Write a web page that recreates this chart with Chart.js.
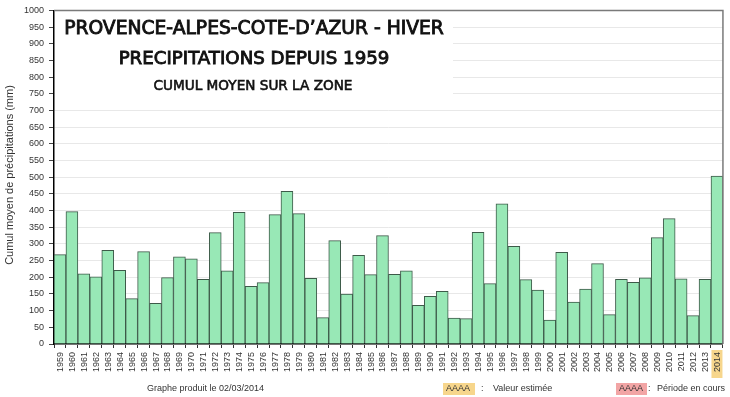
<!DOCTYPE html>
<html><head><meta charset="utf-8">
<script src="https://cdn.jsdelivr.net/npm/chart.js@4"></script>
<style>html,body{margin:0;padding:0;background:#fff}</style>
</head><body>
<canvas id="c" width="730" height="397"></canvas>
<script>
const years = ['1959','1960','1961','1962','1963','1964','1965','1966','1967','1968','1969','1970','1971','1972','1973','1974','1975','1976','1977','1978','1979','1980','1981','1982','1983','1984','1985','1986','1987','1988','1989','1990','1991','1992','1993','1994','1995','1996','1997','1998','1999','2000','2001','2002','2003','2004','2005','2006','2007','2008','2009','2010','2011','2012','2013','2014'];
const values = [268,397,210,201,281,221,136,277,122,199,261,255,194,334,219,395,173,184,388,458,391,197,79,310,150,266,208,325,209,219,116,143,158,78,76,335,181,420,293,193,162,72,275,126,165,241,88,194,185,198,319,376,195,85,194,503];
const estimatedYears = ['2014'];
const titleLines = ['PROVENCE-ALPES-COTE-D\u2019AZUR - HIVER', 'PRECIPITATIONS DEPUIS 1959', 'CUMUL MOYEN SUR LA ZONE'];
const yAxisTitle = 'Cumul moyen de précipitations (mm)';
const footerText = 'Graphe produit le 02/03/2014';
const legendKey = 'AAAA';
const legendEstimated = 'Valeur estimée';
const legendCurrent = 'Période en cours';

const SANS = '"Liberation Sans", Arial, sans-serif';

const overlay = {
  id: 'overlay',
  afterDraw(chart) {
    const ctx = chart.ctx;
    const a = chart.chartArea;
    const xs = chart.scales.x;
    ctx.save();
    // title box
    ctx.fillStyle = '#fff';
    ctx.fillRect(a.left + 1, a.top + 2, 398, 92);
    // plot frame top/right
    ctx.strokeStyle = '#7a7a7a';
    ctx.lineWidth = 1.5;
    ctx.beginPath();
    ctx.moveTo(a.left, a.top);
    ctx.lineTo(a.right, a.top);
    ctx.lineTo(a.right, a.bottom);
    ctx.stroke();
    // titles
    const fitText = (txt, family, targetW, cx, by, stroke) => {
      ctx.font = '20px ' + family;
      const w = ctx.measureText(txt).width;
      const size = 20 * targetW / w;
      ctx.font = size.toFixed(2) + 'px ' + family;
      ctx.textAlign = 'center';
      ctx.textBaseline = 'alphabetic';
      ctx.fillText(txt, cx, by);
      ctx.lineWidth = stroke;
      ctx.strokeText(txt, cx, by);
    };
    ctx.fillStyle = '#111';
    ctx.strokeStyle = '#111';
    const fam = '"DejaVu Sans", sans-serif';
    fitText(titleLines[0], fam, 380, 254, 33.5, 0.9);
    fitText(titleLines[1], fam, 271, 254, 63.5, 0.9);
    fitText(titleLines[2], fam, 199, 253, 89.5, 0.6);
    // y axis title
    ctx.save();
    ctx.translate(10, 175);
    ctx.rotate(-Math.PI / 2);
    ctx.font = '11px ' + SANS;
    ctx.fillStyle = '#333';
    ctx.textAlign = 'center';
    ctx.textBaseline = 'middle';
    ctx.fillText(yAxisTitle, 0, 0);
    ctx.restore();
    // x labels (rotated, reading bottom to top)
    ctx.font = '9px ' + SANS;
    years.forEach((y, i) => {
      const x = xs.getPixelForValue(i);
      if (estimatedYears.includes(y)) {
        ctx.fillStyle = '#f7d68c';
        ctx.fillRect(x - 5.5, a.bottom + 6, 11, 28);
      }
      ctx.save();
      ctx.translate(x, a.bottom + 8);
      ctx.rotate(-Math.PI / 2);
      ctx.fillStyle = '#333';
      ctx.textAlign = 'right';
      ctx.textBaseline = 'middle';
      ctx.fillText(y, 0, 0.5);
      ctx.restore();
    });
    // footer
    ctx.font = '9px ' + SANS;
    ctx.textBaseline = 'middle';
    ctx.textAlign = 'left';
    ctx.fillStyle = '#333';
    ctx.fillText(footerText, 147, 389);
    ctx.fillStyle = '#f7d68c';
    ctx.fillRect(443, 383, 32, 12);
    ctx.fillStyle = '#f2a5a5';
    ctx.fillRect(616, 383, 31, 12);
    ctx.fillStyle = '#333';
    ctx.fillText(legendKey, 446, 389);
    ctx.fillText(':', 481, 389);
    ctx.fillText(legendEstimated, 493, 389);
    ctx.fillText(legendKey, 619, 389);
    ctx.fillText(':', 648, 389);
    ctx.fillText(legendCurrent, 657, 389);
    ctx.restore();
  }
};

new Chart(document.getElementById('c'), {
  type: 'bar',
  data: {
    labels: years,
    datasets: [{
      data: values,
      backgroundColor: '#98e8b6',
      borderColor: '#3d5a49',
      borderWidth: 1,
      categoryPercentage: 1,
      barPercentage: 1
    }]
  },
  options: {
    responsive: false,
    animation: false,
    devicePixelRatio: 1,
    layout: { padding: { top: 8, right: 3, bottom: 0, left: 0 } },
    plugins: { legend: { display: false }, tooltip: { enabled: false }, title: { display: false } },
    scales: {
      x: {
        offset: true,
        grid: { drawOnChartArea: false, drawTicks: true, tickLength: 4, offset: true, tickColor: '#333' },
        border: { color: '#000', width: 1.5 },
        ticks: { autoSkip: false, maxRotation: 0, color: 'rgba(0,0,0,0)', font: { size: 9 } },
        afterFit(s) { s.height = 53; }
      },
      y: {
        min: 0, max: 1000,
        grid: { color: '#e8e8e8', tickColor: '#444', tickLength: 5 },
        border: { color: '#000', width: 1.5 },
        ticks: {
          stepSize: 50, color: '#333', padding: 5,
          font: { family: SANS, size: 9 },
          callback: (v) => String(v)
        },
        afterFit(s) { s.width = 54; }
      }
    }
  },
  plugins: [overlay]
});
</script>
</body></html>
